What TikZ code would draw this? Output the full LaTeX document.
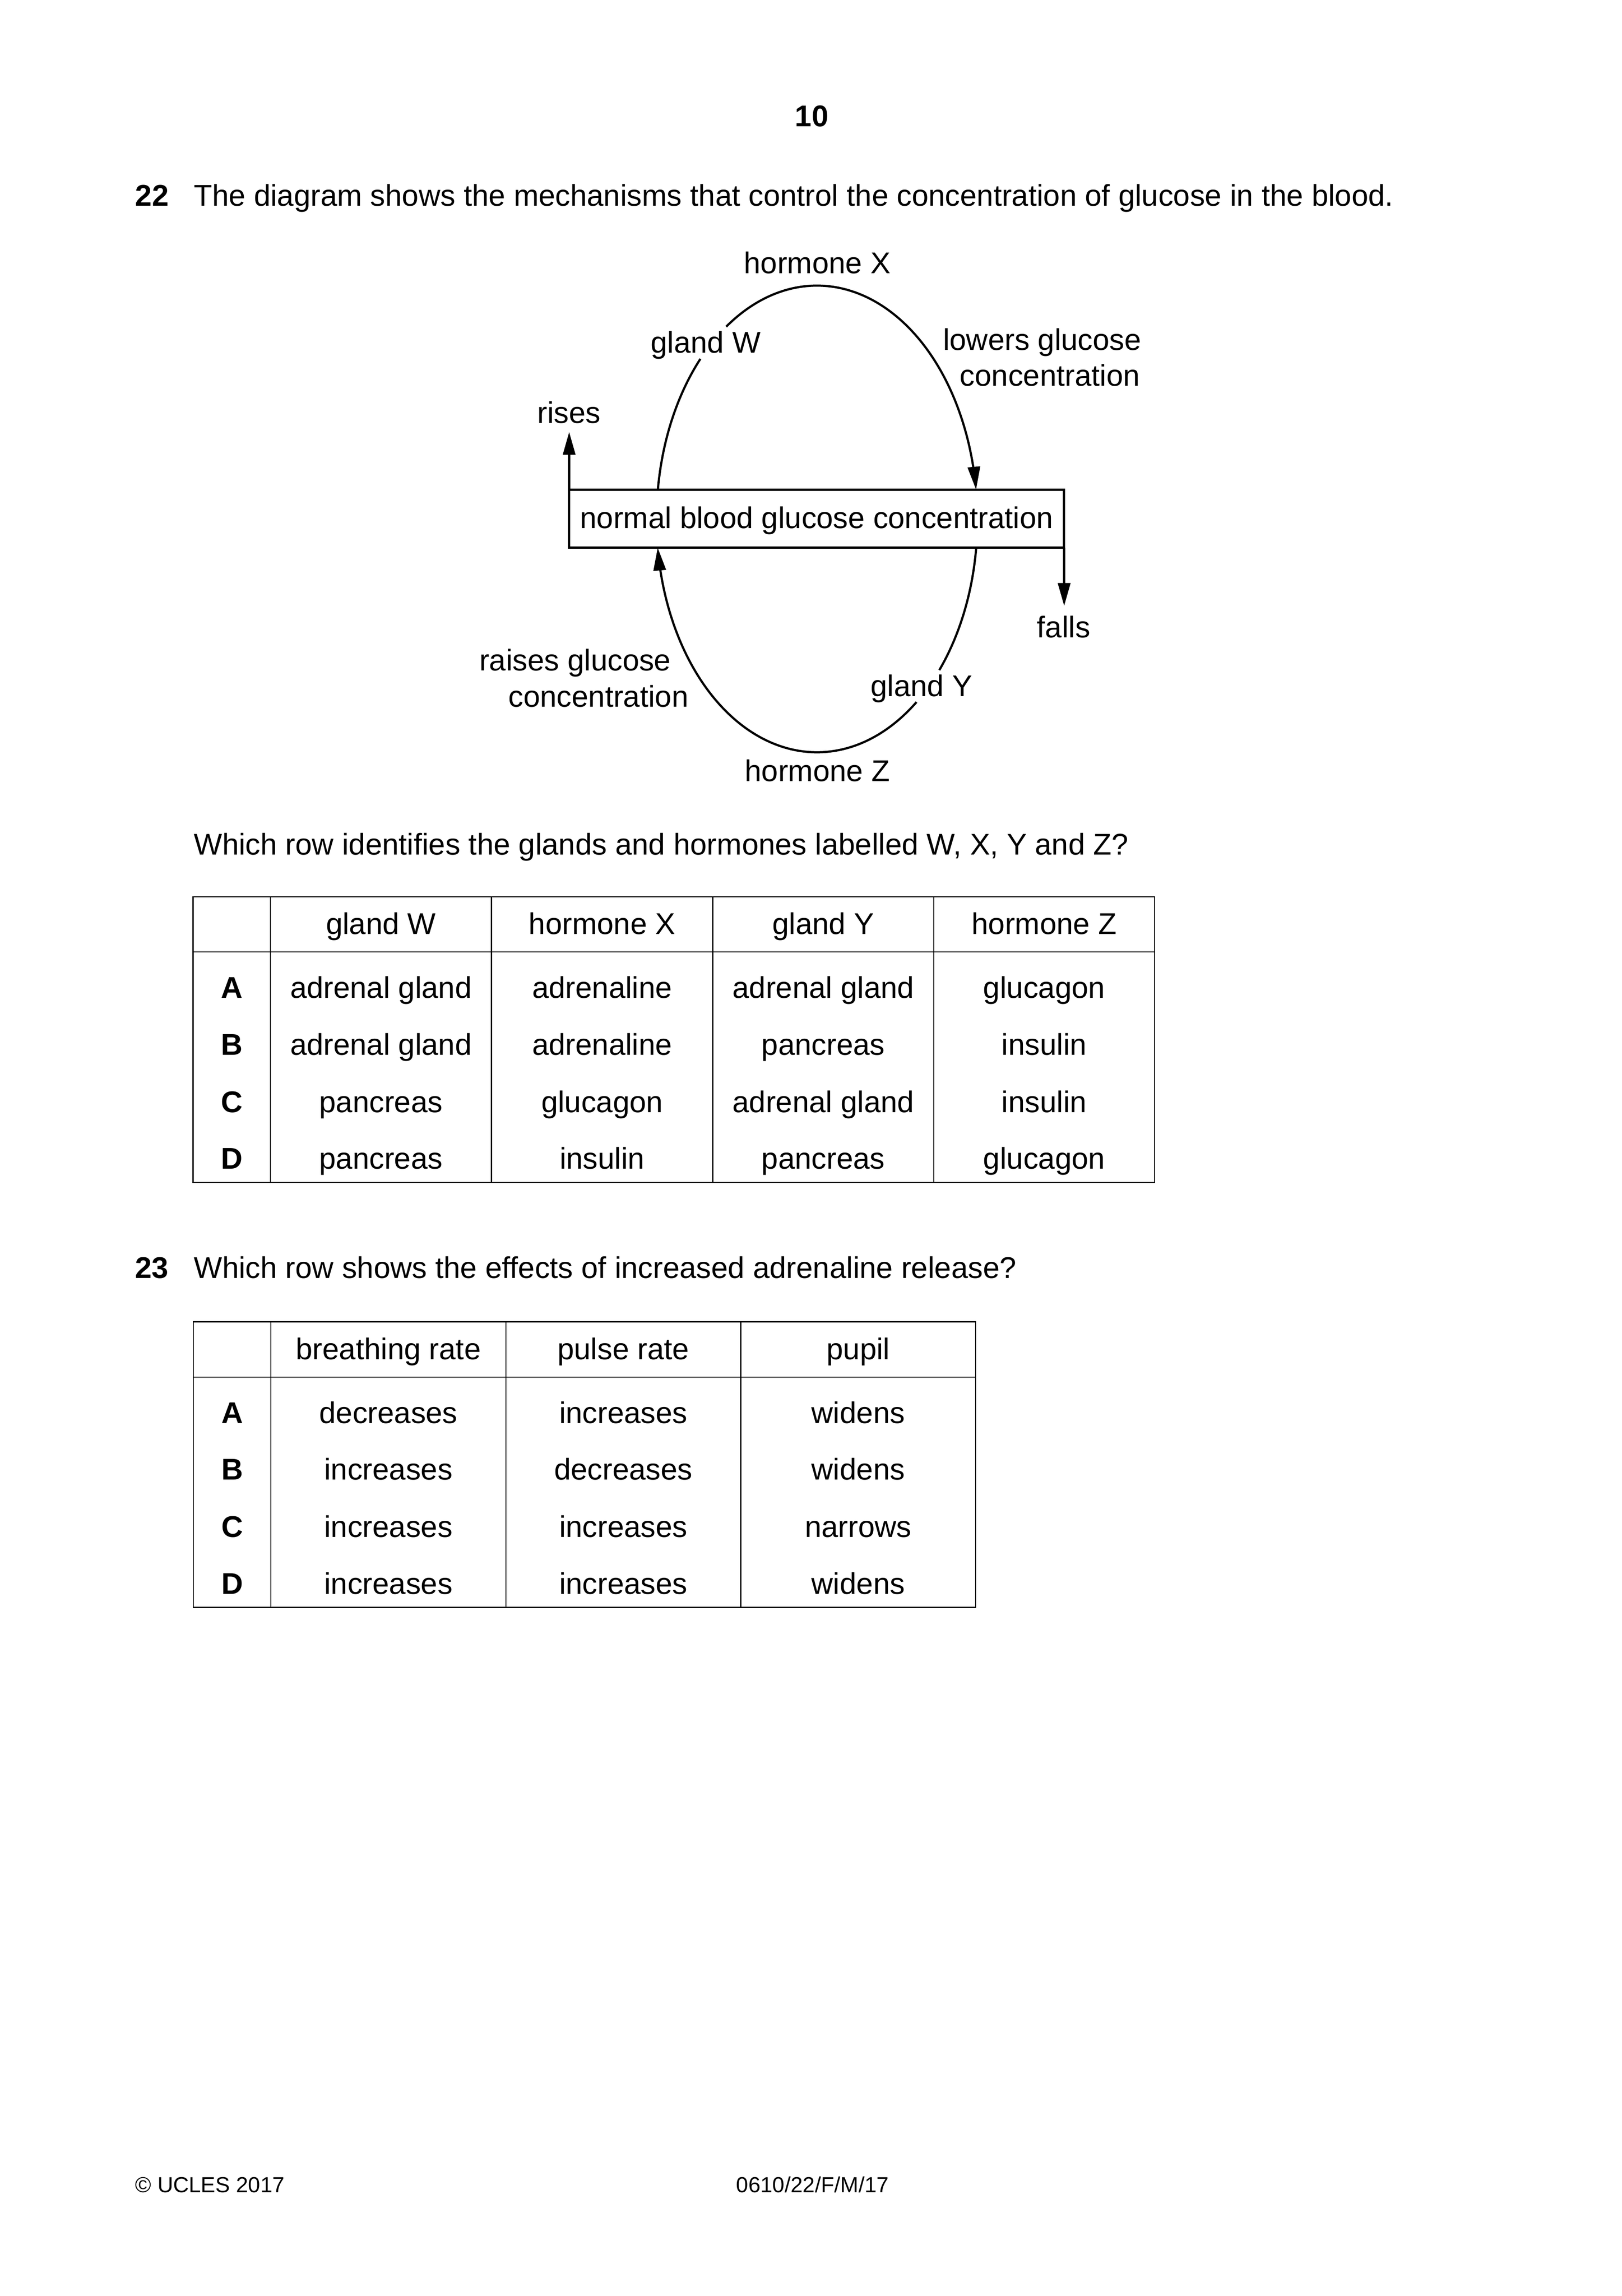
\documentclass[tikz,border=0pt]{standalone}
\usepackage{fontspec}
\setmainfont{Liberation Sans}
\usetikzlibrary{arrows.meta}
\begin{document}
\begin{tikzpicture}[x=0.540181pt, y=-0.540181pt,
  font=\fontsize{11pt}{13.2pt}\selectfont,
  lbl/.style={inner sep=0pt, anchor=base},
  lblw/.style={inner sep=0pt, anchor=base west},
  lble/.style={inner sep=0pt, anchor=base east},
  boldtext/.style={font=\fontsize{11pt}{13.2pt}\selectfont\bfseries},
  tipped/.style={-{Triangle[length=8.4pt,width=4.5pt]}},
  dline/.style={line width=0.85pt},
  arcline/.style={line width=0.8pt},
  tablerule/.style={line width=0.4pt},
  footer/.style={inner sep=0pt, font=\fontsize{8pt}{9.6pt}\selectfont}]
\fill[white] (0,0) rectangle (1102,1559.6);
\useasboundingbox (0,0) rectangle (1102,1559.6);

% page number and question 22
\node[lbl, boldtext] (pagenum) at (551.5,85.8) {10};
\node[lblw, boldtext] (q22) at (91.6,139.9) {22};
\node[lblw] (q22t) at (131.4,139.9) {The diagram shows the mechanisms that control the concentration of glucose in the blood.};

% diagram labels
\node[lbl] (hx) at (555.3,185.6) {hormone X};
\node[lblw] (gw) at (441.8,239.8) {gland W};
\node[lble] (low1) at (775.8,237.9) {lowers glucose};
\node[lble] (low2) at (774.8,262.1) {concentration};
\node[lbl] (rises) at (386.6,287.4) {rises};
\node[draw, dline, anchor=base, inner xsep=0pt, inner ysep=0pt, outer sep=0pt,
      text height=14.2pt, text depth=7.08pt, minimum width=181.66pt]
      (box) at (554.85,359.0) {normal blood glucose concentration};
\node[lbl] (falls) at (722.6,433.1) {falls};
\node[lblw] (r1) at (325.3,455.5) {raises glucose};
\node[lblw] (r2) at (345.1,480.3) {concentration};
\node[lblw] (gy) at (591.2,472.9) {gland Y};
\node[lbl] (hz) at (555.3,530.7) {hormone Z};

% rises / falls arrows
\coordinate (risetip) at (386.7,293.4);
\coordinate (falltip) at (723.0,411.6);
\draw[dline, tipped] (box.north west) -- (risetip);
\draw[dline, tipped] (box.south east) -- (falltip);

% upper loop (gland W -> hormone X -> lowers glucose)
\draw[arcline] plot[domain=172.63:136.6, samples=40, variable=\t]
  ({555.05+109*cos(\t)},{353-159*sin(\t)});
\draw[arcline, tipped] plot[domain=124.45:7.37, samples=120, variable=\t]
  ({555.05+109*cos(\t)},{353-159*sin(\t)});
% lower loop (gland Y -> hormone Z -> raises glucose)
\draw[arcline] plot[domain=-6.9:-40.3, samples=40, variable=\t]
  ({555.05+109*cos(\t)},{353-158*sin(\t)});
\draw[arcline, tipped] plot[domain=-51.65:-173.1, samples=120, variable=\t]
  ({555.05+109*cos(\t)},{353-158*sin(\t)});

% question 22 table
\node[lblw] (q22b) at (131.4,580.5) {Which row identifies the glands and hormones labelled W, X, Y and Z?};
\draw[tablerule] (131.2,609.2) rectangle (784.5,803.1);
\draw[tablerule] (131.2,646.6) -- (784.5,646.6);
\foreach \c in {183.8,333.9,484.3,634.4} \draw[tablerule] (\c,609.2) -- (\c,803.1);
\foreach \x/\t [count=\i] in {258.85/gland W, 409.1/hormone X, 559.35/gland Y, 709.45/hormone Z}
  \node[lbl] (tah\i) at (\x,634.75) {\t};
\foreach \y/\L/\a/\b/\c/\d in {
  678.0/A/adrenal gland/adrenaline/adrenal gland/glucagon,
  716.6/B/adrenal gland/adrenaline/pancreas/insulin,
  755.55/C/pancreas/glucagon/adrenal gland/insulin,
  794.1/D/pancreas/insulin/pancreas/glucagon} {
  \node[lbl, boldtext] (ta\L) at (157.5,\y) {\L};
  \node[lbl] (ta\L1) at (258.85,\y) {\a};
  \node[lbl] (ta\L2) at (409.1,\y) {\b};
  \node[lbl] (ta\L3) at (559.35,\y) {\c};
  \node[lbl] (ta\L4) at (709.45,\y) {\d};
}

% question 23
\node[lblw, boldtext] (q23) at (91.4,868.2) {23};
\node[lblw] (q23t) at (131.4,868.2) {Which row shows the effects of increased adrenaline release?};
\draw[tablerule] (131.3,897.9) rectangle (662.9,1091.9);
\draw[tablerule] (131.3,935.4) -- (662.9,935.4);
\foreach \c in {184.1,343.7,503.3} \draw[tablerule] (\c,897.9) -- (\c,1091.9);
\foreach \x/\t [count=\i] in {263.9/breathing rate, 423.5/pulse rate, 583.1/pupil}
  \node[lbl] (tbh\i) at (\x,923.45) {\t};
\foreach \y/\L/\a/\b/\c in {
  966.7/A/decreases/increases/widens,
  1005.3/B/increases/decreases/widens,
  1044.25/C/increases/increases/narrows,
  1082.8/D/increases/increases/widens} {
  \node[lbl, boldtext] (tb\L) at (157.7,\y) {\L};
  \node[lbl] (tb\L1) at (263.9,\y) {\a};
  \node[lbl] (tb\L2) at (423.5,\y) {\b};
  \node[lbl] (tb\L3) at (583.1,\y) {\c};
}

% footer
\node[footer, anchor=base west] (copy) at (91.6,1489.2) {© UCLES 2017};
\node[footer, anchor=base] (code) at (552.1,1489.2) {0610/22/F/M/17};
\end{tikzpicture}
\end{document}
